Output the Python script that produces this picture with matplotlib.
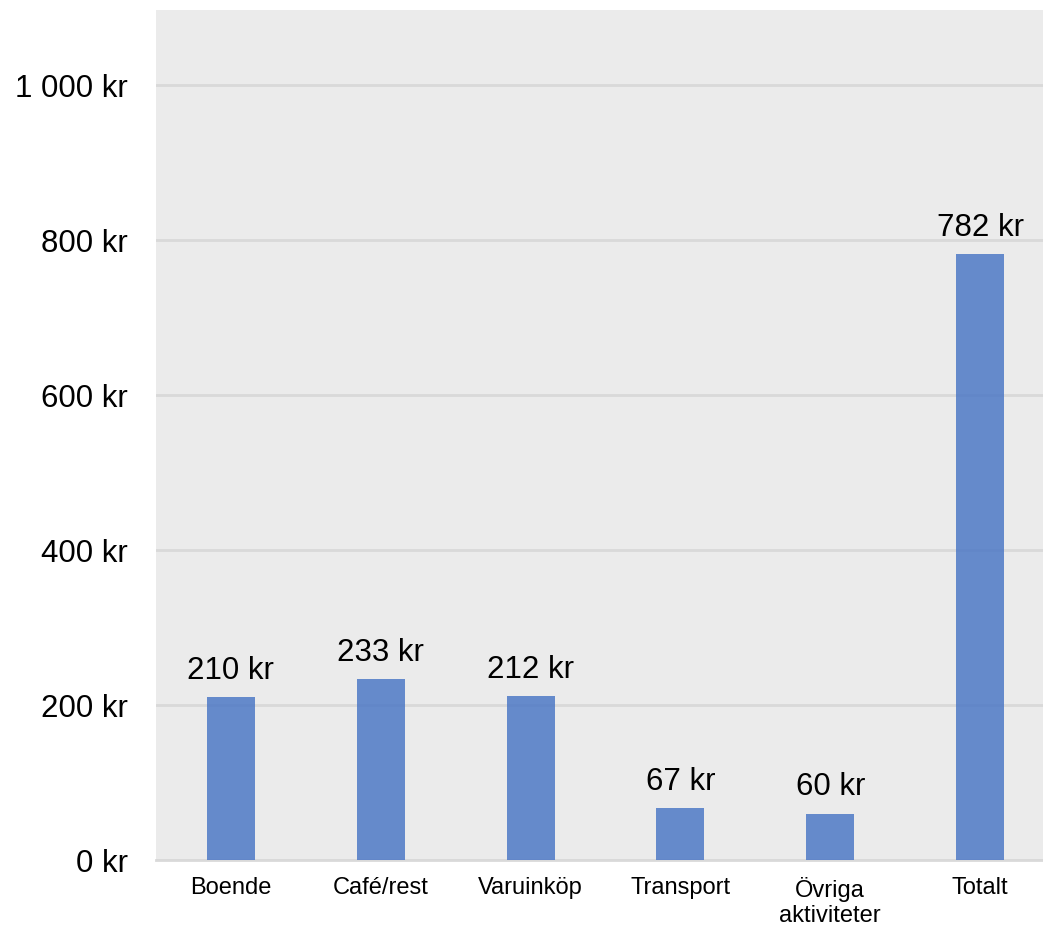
import matplotlib.pyplot as plt

plt.rcParams['font.family'] = ['Liberation Sans', 'DejaVu Sans']

kategorier = ["Boende", "Café/rest", "Varuinköp", "Transport", "Övriga\naktiviteter", "Totalt"]
belopp = [210, 233, 212, 67, 60, 782]
yticks = [0, 200, 400, 600, 800, 1000]
ytick_etiketter = ["0 kr", "200 kr", "400 kr", "600 kr", "800 kr", "1 000 kr"]

fig = plt.figure(figsize=(10.43, 9.25), dpi=100)
ax = fig.add_axes([156 / 1043, 1 - 860 / 925, 899 / 1043, 850 / 925])
ax.set_facecolor('#EBEBEB')

x = range(len(kategorier))
ax.bar(x, belopp, width=0.32, color='#4472C4', alpha=0.8, zorder=3)

# etiketter ovanför staplarna
for xi, v in zip(x, belopp):
    ax.annotate(f"{v} kr", (xi, v), xytext=(0, 13), textcoords='offset points',
                ha='center', va='baseline', fontsize=22.5)

ax.set_xlim(-0.5, len(kategorier) - 0.5)
ax.set_ylim(0, 1097)
ax.set_yticks(yticks)
ax.set_yticklabels(ytick_etiketter, fontsize=22.5)
ax.set_xticks(list(x))
ax.set_xticklabels(kategorier, fontsize=17, linespacing=1.2)
ax.tick_params(axis='y', length=0, pad=20)
ax.tick_params(axis='x', length=0, pad=12)

ax.grid(axis='y', color='#D9D9D9', linewidth=2, zorder=1)
ax.set_axisbelow(True)
for s in ['top', 'right', 'left']:
    ax.spines[s].set_visible(False)
ax.spines['bottom'].set_color('#D9D9D9')
ax.spines['bottom'].set_linewidth(2)

fig.savefig('out.png', dpi=100)
